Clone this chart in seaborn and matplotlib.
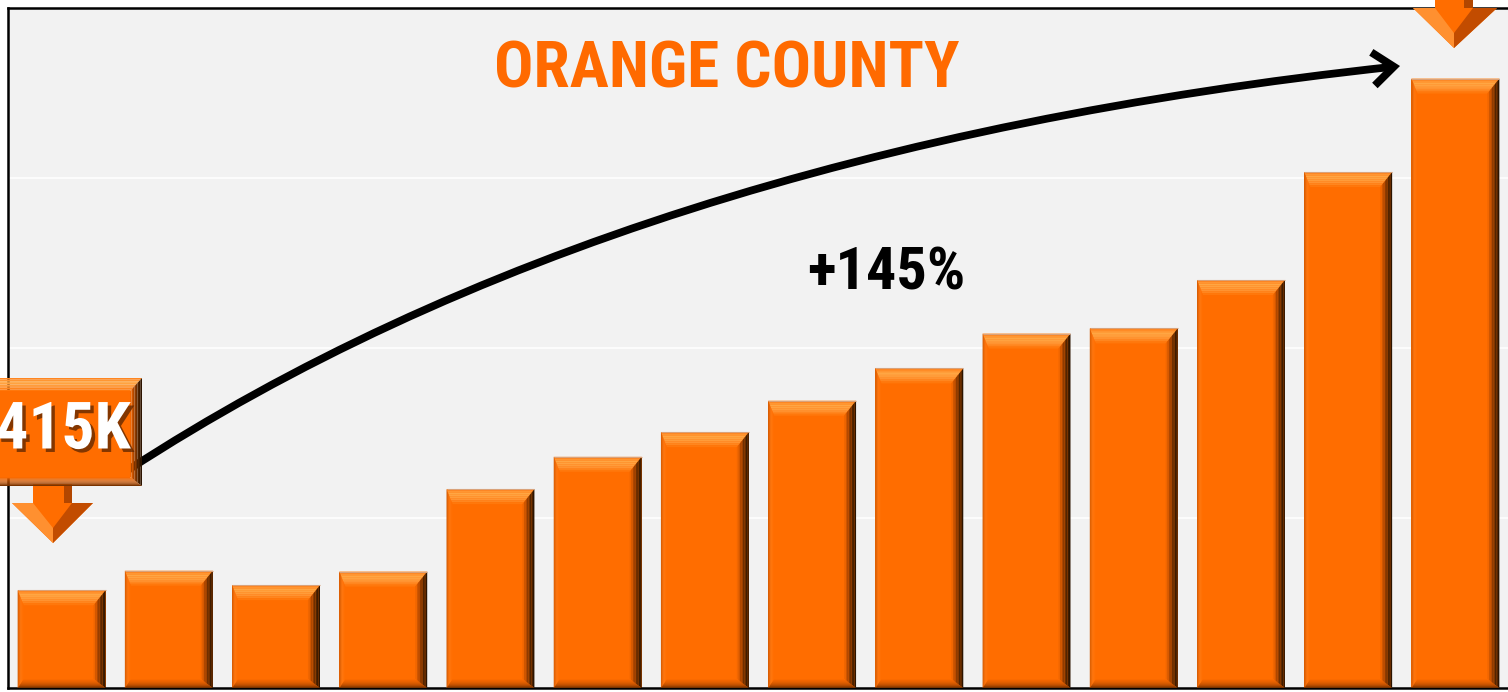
import numpy as np
import pandas as pd
import matplotlib
matplotlib.use("Agg")
import matplotlib.pyplot as plt
import seaborn as sns
from matplotlib.patches import Polygon, FancyArrowPatch, ArrowStyle
from matplotlib.path import Path
from matplotlib.colors import LinearSegmentedColormap
from matplotlib.transforms import Affine2D
from matplotlib import font_manager as fm
import matplotlib.patheffects as pe

# ---------------- data ----------------
periods = ["P1", "P2", "P3", "P4", "P5", "P6", "P7",
           "P8", "P9", "P10", "P11", "P12", "P13", "P14"]
median_price_k = [415, 438, 421, 437, 534, 572, 601,
                  638, 676, 717, 723, 780, 907, 1017]
title_text = "ORANGE COUNTY"
change_text = "+145%"
start_label = "$415K"
gridlines_k = [500, 700, 900]

# ---------------- style ----------------
W, H = 1508, 692
ORANGE = "#ff6d00"
TITLE_ORANGE = "#ff6a00"
BG = "#f2f2f2"

sns.set_style("white")
plt.rcParams["font.family"] = ["Liberation Sans", "DejaVu Sans"]


def pick_narrow_bold():
    """Look for an installed narrow/condensed bold face; else Liberation Sans bold."""
    prefs = ["Liberation Sans Narrow", "Arial Narrow", "Roboto Condensed",
             "Open Sans Condensed", "Noto Sans"]
    cands = []
    for f in fm.fontManager.ttflist:
        narrow = ("Narrow" in f.name or "Condensed" in f.name or
                  str(f.stretch) in ("condensed", "semi-condensed", "extra-condensed"))
        if not narrow or "DejaVu" in f.name:
            continue
        w = f.weight if isinstance(f.weight, int) else (700 if "bold" in str(f.weight) else 400)
        if w < 600:
            continue
        rank = prefs.index(f.name) if f.name in prefs else len(prefs)
        cands.append((rank, abs(w - 700), f.fname))
    if cands:
        cands.sort()
        return fm.FontProperties(fname=cands[0][2])
    return fm.FontProperties(family=["Liberation Sans", "DejaVu Sans"], weight="bold")


FP = pick_narrow_bold()

fig = plt.figure(figsize=(W / 100, H / 100), dpi=100, facecolor="white")
ax = fig.add_axes([8 / W, 4 / H, 1501 / W, 680 / H])
ax.set_facecolor(BG)

df = pd.DataFrame({"period": periods, "price": median_price_k})
sns.barplot(data=df, x="period", y="price", color=ORANGE, saturation=1,
            width=0.82, linewidth=0, edgecolor="none", ax=ax, zorder=2)

ax.set_xlim(-0.5, len(periods) - 0.5)
ax.set_ylim(300, 1100)
ax.set_yticks(gridlines_k)
ax.yaxis.grid(True, color="white", lw=1.2)
ax.xaxis.grid(False)
ax.set_axisbelow(True)
ax.tick_params(left=False, bottom=False, labelleft=False, labelbottom=False)
ax.set_xlabel("")
ax.set_ylabel("")
for s in ["left", "top", "bottom", "right"]:
    ax.spines[s].set_visible(True)
    ax.spines[s].set_color("black")
    ax.spines[s].set_linewidth(1.8)

cm_top = LinearSegmentedColormap.from_list("t", ["#ff7e18", "#ffa846", "#ff9634", "#ff7204"])
cm_right = LinearSegmentedColormap.from_list("r", ["#221000", "#552500", "#a84400", "#ff6d00"])
cm_bottom = LinearSegmentedColormap.from_list("b", ["#6e2e00", "#a84600", "#e05e00", "#ff6d00"])
cm_left = LinearSegmentedColormap.from_list("l", ["#c85400", "#ff7a14", "#ff6d00"])


def bevel(target, x0, x1, y0, y1, bl, br, bb, bt, transform, n=8, z=3):
    """Draw gradient bevel frame inside rectangle (y upward)."""
    for k in range(n):
        f0, f1 = k / n, (k + 1) / n
        fm_ = (f0 + f1) / 2
        xlo, xro = x0 + f0 * bl, x1 - f0 * br
        ybo, yto = y0 + f0 * bb, y1 - f0 * bt
        xli, xri = x0 + f1 * bl, x1 - f1 * br
        ybi, yti = y0 + f1 * bb, y1 - f1 * bt
        polys = [
            ([(xlo, yto), (xro, yto), (xri, yti), (xli, yti)], cm_top(fm_)),
            ([(xro, yto), (xro, ybo), (xri, ybi), (xri, yti)], cm_right(fm_)),
            ([(xlo, ybo), (xro, ybo), (xri, ybi), (xli, ybi)], cm_bottom(fm_)),
            ([(xlo, yto), (xlo, ybo), (xli, ybi), (xli, yti)], cm_left(fm_)),
        ]
        for pts, c in polys:
            p = Polygon(pts, closed=True, facecolor=c, edgecolor="none",
                        transform=transform, zorder=z, clip_on=False)
            target.add_artist(p)


# bevel on every bar (derived from bars drawn by seaborn)
px_x = 1501 / len(periods)          # pixels per category unit
px_y = 680 / (1100 - 300)           # pixels per K
bars = list(ax.patches)
ylo = ax.get_ylim()[0]
for b in bars:
    x0 = b.get_x()
    x1 = x0 + b.get_width()
    y1 = b.get_y() + b.get_height()
    y0 = max(b.get_y(), ylo)
    bevel(ax, x0, x1, y0, y1, 6 / px_x, 12 / px_x, 9 / px_y, 15 / px_y,
          ax.transData)
    ax.plot([x0, x1], [y1, y1], color="#d9a27a", lw=0.8, zorder=4,
            solid_capstyle="butt")

# ---------- pixel-space helpers (y measured from top in reference) ----------
pix = Affine2D().scale(1 / W, -1 / H).translate(0, 1) + fig.transFigure
pix_up = Affine2D().scale(1 / W, 1 / H) + fig.transFigure


def poly_pix(pts, color, z):
    fig.add_artist(Polygon(pts, closed=True, facecolor=color, edgecolor="none",
                           transform=pix, zorder=z, clip_on=False))


# curved growth arrow
verts = [(128, 470), (620, 150), (1400, 66)]
path = Path([(x / W, 1 - y / H) for x, y in verts],
            [Path.MOVETO, Path.CURVE3, Path.CURVE3])
arrow = FancyArrowPatch(path=path,
                        arrowstyle=ArrowStyle("->", head_length=0.75, head_width=0.6),
                        mutation_scale=20, lw=5.6, color="black",
                        transform=fig.transFigure, zorder=6,
                        joinstyle="miter", capstyle="butt")
fig.add_artist(arrow)

# left callout box with "$415K"
bx0, bx1, by0, by1 = -40, 142, 378, 486
bevel(fig, bx0, bx1, H - by1, H - by0, 6, 12, 9, 13, pix_up, z=7)
fig.add_artist(Polygon([(bx0 + 6, H - by0 - 13), (bx1 - 12, H - by0 - 13),
                        (bx1 - 12, H - by1 + 9), (bx0 + 6, H - by1 + 9)],
                       facecolor=ORANGE, edgecolor="none", transform=pix_up,
                       zorder=6.9, clip_on=False))
# left callout down-arrow
poly_pix([(33, 484), (72, 484), (72, 503), (93, 503), (53, 543), (12, 503), (33, 503)],
         ORANGE, 6.8)
poly_pix([(12, 503), (33, 503), (53, 528), (53, 543)], "#ff9030", 6.85)
poly_pix([(72, 503), (93, 503), (53, 543), (53, 528)], "#c24c00", 6.85)
poly_pix([(64, 486), (72, 486), (72, 503), (64, 503)], "#b24600", 6.85)

# top-right callout down-arrow (box lies above the picture)
poly_pix([(1435, 0), (1473, 0), (1473, 8), (1497, 8), (1454, 48), (1413, 8), (1435, 8)],
         ORANGE, 6.8)
poly_pix([(1413, 8), (1435, 8), (1454, 33), (1454, 48)], "#ff9030", 6.85)
poly_pix([(1473, 8), (1497, 8), (1454, 48), (1454, 33)], "#c24c00", 6.85)
poly_pix([(1464, 0), (1473, 0), (1473, 8), (1464, 8)], "#b24600", 6.85)

# texts
t_start = fig.text(131 / W, 1 - 431 / H, start_label, color="white", fontsize=46,
                   fontproperties=FP, ha="right", va="center", zorder=8,
                   path_effects=[pe.SimplePatchShadow(offset=(2.5, -2.5),
                                                      shadow_rgbFace="#5a2400", alpha=0.75),
                                 pe.Normal()])
t_title = fig.text(727 / W, 1 - 70 / H, title_text, color=TITLE_ORANGE, fontsize=47,
                   fontproperties=FP, ha="center", va="center", zorder=8)
t_change = fig.text(886 / W, 1 - 273 / H, change_text, color="black", fontsize=39,
                    fontproperties=FP, ha="center", va="center", zorder=8)

# fit each text to the width it occupies in the reference
renderer = fig.canvas.get_renderer()
for t, max_size, target_w in [(t_start, 60, 168), (t_title, 60, 465), (t_change, 60, 158)]:
    t.set_fontsize(40)
    wpx = t.get_window_extent(renderer).width
    t.set_fontsize(min(max_size, 40 * target_w / wpx))

fig.savefig("out.png", dpi=100, facecolor="white")
